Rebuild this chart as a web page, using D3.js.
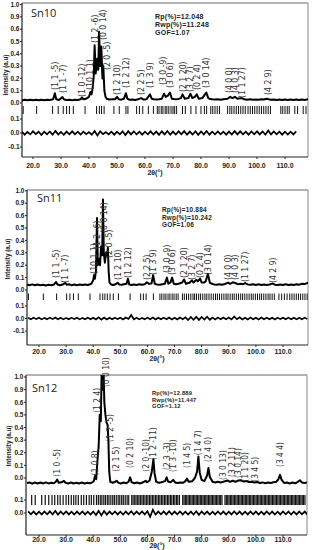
<!DOCTYPE html>
<html><head><meta charset="utf-8">
<script src="https://cdn.jsdelivr.net/npm/d3@7/dist/d3.min.js"></script>
<style>body{margin:0;background:#fff}svg{display:block}</style>
</head><body><svg id="c" width="313" height="550"></svg>
<script>
// ---------- shared axis data ----------
const xTicks=[20,30,40,50,60,70,80,90,100,110];
const xTickLabels=["20.0","30.0","40.0","50.0","60.0","70.0","80.0","90.0","100.0","110.0"];
const yTickValues=[0,0.1,0.2,0.3,0.4,0.5,0.6,0.7,0.8];
const yTickLabels=["0.0","0.1","0.2","0.3","0.4","0.5","0.6","0.9","1.0"];
const diffTickValues=[0.1,0,-0.1];
const diffTickLabels=["0.1","0.0","-0.1"];
const diffStart=16, diffStep=1;
const panelNames=["Sn10","Sn11","Sn12"];
const rpValues=["12.048","10.884","12.889"];
const rwpValues=["11.248","10.242","11.447"];
const gofValues=["1.07","1.06","1.12"];

// ---------- Sn10 ----------
const sn10Obs=[[16,0.02],[17,0.026],[18,0.022],[19,0.027],[20,0.022],[21,0.026],[22,0.023],[23,0.027],[24,0.022],[25,0.026],[26,0.024],[27.2,0.03],[27.8,0.08],[28.3,0.03],[29.3,0.025],[30.5,0.048],[31.1,0.028],[32,0.025],[33,0.027],[34,0.023],[35,0.027],[36,0.024],[37,0.03],[37.5,0.045],[38,0.03],[39,0.035],[40,0.05],[40.5,0.09],[40.9,0.07],[41.3,0.12],[41.7,0.22],[42.0,0.47],[42.4,0.24],[42.9,0.36],[43.3,0.27],[43.6,0.58],[44.0,0.3],[44.4,0.46],[44.8,0.2],[45.1,0.3],[45.5,0.1],[45.9,0.05],[46.3,0.035],[47.2,0.028],[48.2,0.03],[49.3,0.03],[50,0.05],[50.6,0.03],[51.5,0.027],[52.5,0.035],[53.2,0.08],[53.7,0.035],[54.5,0.026],[55.5,0.028],[56.5,0.025],[57.5,0.03],[58.6,0.04],[59.5,0.028],[60.5,0.03],[61.8,0.07],[62.4,0.035],[63.2,0.03],[64,0.028],[65,0.03],[66,0.035],[66.8,0.075],[67.4,0.05],[68.2,0.06],[68.9,0.085],[69.6,0.035],[70.3,0.032],[71,0.03],[72,0.033],[72.8,0.04],[73.4,0.07],[74.2,0.035],[75.5,0.04],[76.2,0.075],[76.9,0.04],[77.8,0.05],[78.5,0.07],[79.2,0.035],[80.5,0.04],[81.4,0.07],[81.9,0.085],[82.6,0.04],[83.3,0.032],[84,0.03],[85,0.028],[86,0.031],[87,0.027],[88,0.03],[89.5,0.035],[90.4,0.05],[91.2,0.04],[92.1,0.05],[93,0.035],[94.5,0.04],[95.5,0.03],[96.5,0.027],[97.5,0.03],[98.5,0.026],[99.5,0.029],[100.5,0.026],[101.5,0.03],[102.5,0.028],[103.5,0.035],[104.2,0.03],[105,0.026],[106,0.029],[107,0.025],[108,0.028],[109,0.025],[110,0.029],[111,0.025],[112,0.028],[113,0.024],[114,0.028],[115,0.025],[116,0.028],[117,0.025],[118.2,0.03]];
const sn10Diff=[0.01,-0.012,0.008,-0.01,0.012,-0.008,0.01,-0.014,0.009,-0.01,
0.011,-0.012,0.015,-0.01,0.008,-0.013,0.01,-0.009,0.012,-0.01,
0.009,-0.011,0.01,-0.008,0.006,-0.012,0.014,-0.018,0.012,-0.008,
0.006,-0.01,0.009,-0.012,0.01,-0.009,0.012,-0.015,0.013,-0.01,
0.011,-0.009,0.01,-0.012,0.009,-0.01,0.012,-0.011,0.01,-0.013,
0.012,-0.01,0.014,-0.012,0.01,-0.011,0.012,-0.009,0.013,-0.012,
0.01,-0.011,0.012,-0.013,0.011,-0.01,0.014,-0.012,0.01,-0.009,
0.011,-0.01,0.009,-0.012,0.01,-0.011,0.013,-0.01,0.012,-0.009,
0.01,-0.012,0.011,-0.009,0.012,-0.01,0.011,-0.012,0.018,-0.01,
0.011,-0.009,0.01,-0.012,0.009,-0.011,0.01,-0.01,0.012];
const sn10Bragg=[16.5,21.3,27.0,29.0,30.8,32.0,33.0,34.4,38.6,42.7,43.7,44.5,45.4,48.9,50.8,53.2,53.9,57.0,58.0,59.2,61.2,63.0,64.4,65.0,65.8,66.4,67.2,67.8,68.5,69.3,70.0,70.6,71.3,73.4,74.4,76.4,78.2,80.0,81.2,82.0,83.5,84.2,85.0,85.8,86.6,89.5,90.3,91.0,91.8,92.6,93.4,94.2,95.0,95.8,96.8,97.6,98.4,99.2,100.0,100.8,101.6,102.4,103.2,104.0,104.8,108.5,109.2,110.0,110.8,111.5,113.5,114.5,116.5,117.5];
const sn10Hkl=[["(1 1 -5)",27.9,0.106],["(1 1 -7)",30.7,0.081],["(1 0 -12)",37.5,0.049],["(10 1 1)",40.4,0.106],["(1 2 -6)",42.1,0.488],["(0 0 14)",45.0,0.512],["(2 0 -5)",46.4,0.268],["(1 2 10)",50.0,0.065],["(1 2 12)",53.2,0.122],["(2 2 5)",58.6,0.065],["(1 3 9)",61.8,0.122],["(3 0 -9)",66.4,0.146],["(3 0 6)",68.9,0.122],["(2 1 20)",73.6,0.089],["(3 2 7)",76.1,0.089],["(0 2 4)",78.6,0.106],["(3 0 14)",81.8,0.122],["(4 0 0)",90.0,0.081],["(4 0 3)",92.1,0.081],["(1 1 27)",94.6,0.041],["(4 2 9)",103.9,0.065]];

// ---------- Sn11 ----------
const sn11Obs=[[15.6,0.045],[16.5,0.038],[17.5,0.045],[18.5,0.038],[19.5,0.044],[20.5,0.038],[21.5,0.043],[22.5,0.037],[23.5,0.043],[24.5,0.039],[25.5,0.044],[26.3,0.065],[26.8,0.045],[27.8,0.039],[28.7,0.044],[29.7,0.058],[30.2,0.042],[31,0.046],[32,0.039],[33,0.044],[34,0.039],[35,0.044],[36,0.04],[37,0.044],[38,0.04],[39.3,0.05],[40,0.08],[40.3,0.12],[40.6,0.09],[41,0.15],[41.4,0.58],[41.7,0.2],[42.1,0.25],[42.5,0.2],[42.9,0.35],[43.3,0.28],[43.6,0.73],[43.9,0.3],[44.3,0.22],[44.7,0.3],[45.1,0.27],[45.4,0.34],[45.7,0.15],[46,0.06],[46.6,0.045],[47.4,0.04],[48.2,0.046],[49,0.058],[49.6,0.045],[50.5,0.042],[51.4,0.046],[52.3,0.05],[52.8,0.09],[53.3,0.045],[54.2,0.04],[55,0.045],[56,0.04],[57,0.046],[58,0.042],[59,0.046],[59.8,0.062],[60.5,0.05],[61.5,0.052],[62.1,0.12],[62.7,0.05],[63.5,0.045],[64.5,0.042],[65.5,0.047],[66.4,0.05],[67.2,0.1],[67.7,0.05],[68.5,0.062],[69.1,0.1],[69.7,0.05],[70.5,0.046],[71.5,0.05],[72.8,0.06],[73.5,0.085],[74.2,0.05],[75.5,0.058],[76.4,0.078],[77,0.06],[78,0.082],[78.6,0.07],[79.4,0.092],[80,0.06],[80.8,0.06],[81.5,0.07],[82.3,0.13],[83,0.06],[83.8,0.05],[84.5,0.045],[85.5,0.042],[86.5,0.046],[87.5,0.042],[88.5,0.048],[89.7,0.06],[90.5,0.05],[91.5,0.062],[92.3,0.056],[93.5,0.046],[94.4,0.05],[95.2,0.046],[96,0.056],[97,0.045],[98,0.042],[99,0.046],[100,0.041],[101,0.046],[102,0.041],[103,0.045],[104,0.041],[105,0.044],[106.3,0.052],[107,0.043],[108,0.04],[109,0.045],[110,0.04],[111,0.046],[112,0.04],[113,0.045],[114,0.041],[115,0.046],[116,0.043],[117,0.05],[118,0.048],[119.2,0.06]];
const sn11Diff=[0.006,-0.006,0.007,-0.005,0.006,-0.007,0.005,-0.006,0.007,-0.005,
0.008,-0.006,0.006,-0.007,0.005,-0.006,0.007,-0.005,0.006,-0.007,
0.005,-0.006,0.007,-0.006,0.006,-0.008,0.01,-0.009,0.008,-0.007,
0.006,-0.006,0.007,-0.005,0.006,-0.007,0.008,-0.004,0.028,-0.006,
0.006,-0.007,0.005,-0.006,0.007,-0.006,0.008,-0.007,0.006,-0.006,
0.007,-0.006,0.008,-0.007,0.006,-0.008,0.007,-0.006,0.009,-0.012,
0.012,-0.01,0.013,-0.011,0.012,-0.008,0.014,-0.01,0.008,-0.007,
0.007,-0.006,0.008,-0.006,0.007,-0.008,0.016,-0.006,0.009,-0.007,
0.006,-0.007,0.007,-0.006,0.006,-0.007,0.008,-0.006,0.007,-0.006,
0.006,-0.007,0.007,-0.005,0.006,-0.006,0.007,-0.006,0.006,-0.007,
0.006,-0.006,0.007,-0.005];
const sn11Bragg=[16.1,21.6,26.5,30.2,31.4,32.7,34.5,38.8,42.5,43.5,44.3,45.2,46.2,47.4,49.3,53.6,57.5,58.5,59.5,62.2,64.6,65.3,66.1,66.8,67.6,68.3,69.1,69.8,70.6,71.3,72.9,73.6,74.4,75.2,76.0,76.8,77.4,78.1,78.9,79.6,80.4,81.2,81.9,82.7,83.5,84.3,85.1,85.8,86.6,87.4,88.2,89.0,89.7,90.5,91.3,92.0,92.8,93.6,94.4,95.1,95.9,96.7,97.5,98.3,99.0,99.8,100.6,101.4,102.1,102.9,103.7,104.5,105.2,106.0,106.8,108.5,109.5,110.5,111.5,112.5,113.3,114.1,114.9,115.7,116.5,117.3,118.1,118.9];
const sn11Hkl=[["(1 1 -5)",26.2,0.097],["(1 1 -7)",29.6,0.056],["(10 1 1)",40.1,0.13],["(1 2 -6)",41.3,0.33],["(0 0 14)",43.9,0.46],["(2 0 -5)",45.8,0.258],["(1 2 10)",49.1,0.08],["(1 2 12)",52.8,0.097],["(2 2 5)",59.8,0.08],["(1 3 9)",62.1,0.121],["(3 0 -9)",67.2,0.137],["(3 0 6)",69.1,0.121],["(2 1 20)",73.5,0.097],["(3 2 7)",76.4,0.08],["(0 2 4)",79.4,0.097],["(3 0 14)",82.3,0.121],["(4 0 0)",89.7,0.08],["(4 0 3)",92.3,0.08],["(1 1 27)",96.0,0.064],["(4 2 9)",106.3,0.056]];

// ---------- Sn12 ----------
const sn12Obs=[[15.6,-0.04],[16.5,-0.035],[17.5,-0.045],[18.5,-0.036],[19.5,-0.044],[20.5,-0.036],[21.5,-0.043],[22.5,-0.035],[23.5,-0.043],[24.5,-0.037],[25.5,-0.042],[26.2,-0.03],[26.7,-0.012],[27.3,-0.038],[28.3,-0.034],[29.2,-0.022],[29.8,-0.038],[30.8,-0.043],[31.8,-0.036],[32.8,-0.044],[33.8,-0.037],[34.8,-0.043],[35.8,-0.036],[36.8,-0.043],[37.8,-0.037],[38.8,-0.042],[39.6,-0.035],[40.2,-0.025],[40.7,0.02],[41.1,-0.01],[41.6,0.15],[42.0,0.25],[42.4,0.5],[42.8,0.45],[43.1,0.84],[43.4,0.7],[43.8,0.86],[44.1,0.6],[44.5,0.5],[44.9,0.44],[45.3,0.42],[45.6,0.3],[45.9,0.05],[46.3,-0.03],[47.2,-0.038],[48,-0.032],[48.6,-0.022],[49.3,-0.038],[50.2,-0.043],[51.2,-0.036],[52.2,-0.042],[53,-0.03],[53.6,0.005],[54.2,-0.035],[55.2,-0.042],[56.2,-0.036],[57.2,-0.043],[58.2,-0.036],[59.3,-0.022],[59.8,-0.034],[60.8,-0.02],[61.6,0.05],[62.2,0.15],[62.6,0.04],[63.2,-0.028],[64.2,-0.038],[65.2,-0.034],[66.5,-0.025],[67.1,0.005],[67.6,-0.028],[68.5,-0.034],[69.5,-0.015],[70.2,-0.035],[71.2,-0.04],[72.2,-0.035],[73.2,-0.038],[74,-0.025],[74.6,-0.005],[75.2,-0.03],[76.5,-0.025],[77.5,0.0],[78.3,0.05],[78.8,0.17],[79.3,0.04],[80,-0.015],[81,-0.025],[82,0.02],[82.5,0.08],[83,0.01],[84,-0.03],[85,-0.036],[86,-0.03],[87,-0.036],[88,-0.03],[89.5,-0.02],[90.5,-0.03],[91.5,-0.022],[92.5,-0.03],[93.5,-0.02],[94.5,-0.018],[95.5,-0.028],[96.5,-0.024],[97.5,-0.032],[98.5,-0.03],[99.5,-0.036],[100.5,-0.032],[101.5,-0.04],[102.5,-0.035],[103.5,-0.042],[104.5,-0.036],[105.5,-0.04],[106.5,-0.034],[107.5,-0.03],[108.3,-0.01],[108.9,0.025],[109.5,-0.015],[110.5,-0.04],[111.5,-0.036],[112.5,-0.043],[113.5,-0.036],[114.5,-0.042],[115.5,-0.03],[116.2,-0.018],[117,-0.036],[118,-0.04],[119.2,-0.035]];
const sn12Diff=[0.012,-0.01,0.011,-0.012,0.01,-0.011,0.012,-0.01,0.013,-0.011,
0.016,-0.012,0.011,-0.01,0.012,-0.011,0.01,-0.012,0.011,-0.01,
0.012,-0.011,0.01,-0.012,0.011,-0.015,0.016,-0.018,0.015,-0.012,
0.011,-0.01,0.012,-0.011,0.01,-0.012,0.011,-0.01,0.013,-0.012,
0.011,-0.01,0.012,-0.011,0.013,-0.03,0.025,-0.012,0.011,-0.01,
0.012,-0.011,0.013,-0.012,0.011,-0.01,0.012,-0.011,0.01,-0.012,
0.011,-0.012,0.013,-0.014,0.012,-0.01,0.011,-0.012,0.01,-0.011,
0.012,-0.01,0.011,-0.012,0.01,-0.011,0.012,-0.01,0.011,-0.012,
0.01,-0.011,0.012,-0.01,0.011,-0.012,0.01,-0.011,0.012,-0.01,
0.011,-0.012,0.01,-0.011,0.012,-0.01,0.011,-0.012,0.01,-0.011,
0.012,-0.01,0.011,-0.012];
const sn12Bragg=[17.3,18.6,21.0,22.3,23.6,24.8,25.8,26.9,27.8,28.9,30.0,30.9,31.9,32.8,33.6,34.5,35.6,36.5,37.5,38.5,39.3,40.2,41.2,41.9,42.6,43.2,43.9,44.5,45.2,45.8,46.5,47.2,47.8,48.5,49.2,49.8,50.5,51.1,51.8,52.5,53.1,
54.2,54.7,55.3,55.8,56.4,56.9,57.5,58.0,58.6,59.1,59.7,60.2,60.8,61.3,61.9,62.4,63.0,63.5,64.1,64.6,65.2,65.7,66.3,66.8,67.4,67.9,68.5,69.0,69.6,70.1,70.7,71.2,71.8,
73.0,73.5,74.0,74.5,75.0,75.5,76.0,76.5,77.0,77.5,78.0,78.5,79.0,79.5,80.0,80.5,81.0,81.5,82.0,82.5,83.0,83.5,84.0,84.5,85.0,85.5,86.0,86.5,87.0,87.5,
88.6,89.1,89.6,90.1,90.6,91.1,91.6,92.1,92.6,93.1,93.6,94.1,94.6,95.1,95.6,96.1,96.6,97.1,97.6,98.1,98.6,99.1,99.6,100.1,100.6,101.1,101.6,102.1,102.6,103.1,103.6,104.1,104.6,105.1,105.6,106.1,106.6,107.1,107.6,108.1,108.6,109.1,109.6,110.1,110.6,111.1,111.6,112.1,112.6,113.1,113.6,114.1,114.6,115.1,115.6,116.1,116.6,117.1,117.6,118.1];
const sn12Hkl=[["(1 0 -5)",26.8,0.01],["(1 0 8)",40.7,0.02],["(1 2 4)",41.4,0.516],["(0 0 10)",44.6,0.72],["(1 2 -5)",46.2,0.286],["(2 1 5)",48.6,0.05],["(0 2 10)",53.6,0.08],["(2 0 -10)",59.5,0.05],["(1 2 -11)",62.2,0.143],["(2 3 -3)",67.1,0.063],["(1 3 -10)",69.5,0.048],["(1 4 5)",74.5,0.08],["(1 4 7)",78.8,0.18],["(2 4 0)",82.5,0.127],["(3 0 13)",88.0,-0.016],["(3 2 11)",91.1,0.008],["(3 0 14)",93.5,0.0],["(1 1 20)",96.0,-0.03],["(3 4 5)",99.7,-0.03],["(3 4 4)",108.9,0.087]];

// ---------- layout (pixel geometry, kept out of data) ----------
const layout=[
 {obs:sn10Obs,diff:sn10Diff,bragg:sn10Bragg,hkl:sn10Hkl,L:22,R:308,T:3,B:157,x0:33,x1:285,y0:103,y8:4.6,bT:106,bB:114,dTop:119,dBot:147,nDiff:3,xlabY:167.5,xtY:174.5,snX:31,snY:17,stX:155,stY:[19,27,35],stFs:7.0,ylX:6,ylY:75,hklFs:8.6,braggW:1},
 {obs:sn11Obs,diff:sn11Diff,bragg:sn11Bragg,hkl:sn11Hkl,L:27,R:308,T:190,B:345,x0:39,x1:283,y0:290,y8:190.8,bT:293.5,bB:300,dTop:306,dBot:331,nDiff:3,xlabY:354,xtY:361,snX:37,snY:202,stX:162,stY:[212.3,219.7,227],stFs:6.4,ylX:8,ylY:259,hklFs:8.6,braggW:1},
 {obs:sn12Obs,diff:sn12Diff,bragg:sn12Bragg,hkl:sn12Hkl,L:26,R:307,T:375,B:535,x0:39,x1:283,y0:478,y8:377,bT:495,bB:505,dTop:500,dBot:526,nDiff:2,xlabY:542,xtY:548,snX:32,snY:392,stX:152,stY:[395,401.7,408.3],stFs:5.7,ylX:9,ylY:446,hklFs:8.4,braggW:1.2}
];

const svg=d3.select("#c");
const boldF="'Liberation Sans',Arial,sans-serif";
const narrowF="'Liberation Sans Narrow','Arial Narrow','DejaVu Sans Condensed',sans-serif";

layout.forEach((p,i)=>{
  const g=svg.append("g");
  const x=d3.scaleLinear().domain([xTicks[0],xTicks[xTicks.length-1]]).range([p.x0,p.x1]);
  const y=d3.scaleLinear().domain([yTickValues[0],yTickValues[yTickValues.length-1]]).range([p.y0,p.y8]);
  const yd=d3.scaleLinear().domain([-0.1,0.1]).range([p.dBot,p.dTop]);
  const cid="clip"+i;
  g.append("clipPath").attr("id",cid).append("rect").attr("x",p.L).attr("y",p.T).attr("width",p.R-p.L).attr("height",p.B-p.T);

  // frame
  g.append("line").attr("x1",p.L).attr("x2",p.R).attr("y1",p.T).attr("y2",p.T).attr("stroke","#666").attr("stroke-width",1);
  g.append("line").attr("x1",p.R).attr("x2",p.R).attr("y1",p.T).attr("y2",p.B).attr("stroke","#888").attr("stroke-width",1);
  g.append("line").attr("x1",p.L).attr("x2",p.R).attr("y1",p.B).attr("y2",p.B).attr("stroke","#222").attr("stroke-width",1.2);
  g.append("line").attr("x1",p.L).attr("x2",p.L).attr("y1",p.T).attr("y2",p.B).attr("stroke","#222").attr("stroke-width",1.2);

  // y ticks main
  yTickValues.forEach((v,k)=>{
    g.append("line").attr("x1",p.L-2).attr("x2",p.L).attr("y1",y(v)).attr("y2",y(v)).attr("stroke","#222");
    g.append("text").attr("x",p.L-2.5).attr("y",y(v)).attr("dy","0.35em").attr("text-anchor","end")
     .attr("font-family",boldF).attr("font-weight","bold").attr("font-size",6.5).attr("fill","#222").text(yTickLabels[k]);
  });
  diffTickValues.slice(0,p.nDiff).forEach((v,k)=>{
    g.append("line").attr("x1",p.L-2).attr("x2",p.L).attr("y1",yd(v)).attr("y2",yd(v)).attr("stroke","#222");
    g.append("text").attr("x",p.L-2.5).attr("y",yd(v)).attr("dy","0.35em").attr("text-anchor","end")
     .attr("font-family",boldF).attr("font-weight","bold").attr("font-size",6.5).attr("fill","#222").text(diffTickLabels[k]);
  });
  // x ticks
  xTicks.forEach((v,k)=>{
    g.append("line").attr("x1",x(v)).attr("x2",x(v)).attr("y1",p.B).attr("y2",p.B+2).attr("stroke","#222");
    g.append("text").attr("x",x(v)).attr("y",p.xlabY).attr("text-anchor","middle")
     .attr("font-family",boldF).attr("font-weight","bold").attr("font-size",7).attr("fill","#222").text(xTickLabels[k]);
  });
  g.append("text").attr("x",(p.x0+p.x1)/2-4).attr("y",p.xtY).attr("text-anchor","middle")
   .attr("font-family",boldF).attr("font-weight","bold").attr("font-size",7).attr("fill","#222").text("2θ(°)");
  g.append("text").attr("transform",`translate(${p.ylX},${p.ylY}) rotate(-90)`).attr("text-anchor","middle").attr("dy","0.35em")
   .attr("font-family",boldF).attr("font-weight","bold").attr("font-size",6.3).attr("fill","#222").text("Intensity (a.u)");

  // observed / calculated pattern
  const line=d3.line().x(d=>x(d[0])).y(d=>y(d[1]));
  g.append("path").attr("d",line(p.obs)).attr("fill","none").attr("stroke","#000").attr("stroke-width",2)
   .attr("stroke-linejoin","round").attr("clip-path",`url(#${cid})`);
  // bragg ticks
  g.selectAll(null).data(p.bragg).enter().append("line")
   .attr("x1",d=>x(d)).attr("x2",d=>x(d)).attr("y1",p.bT).attr("y2",p.bB).attr("stroke","#111").attr("stroke-width",p.braggW)
   .attr("clip-path",`url(#${cid})`);
  // difference
  const dl=d3.line().x(d=>x(d[0])).y(d=>yd(d[1]));
  const dd=p.diff.map((v,k)=>[diffStart+k*diffStep,v]);
  g.append("path").attr("d",dl(dd)).attr("fill","none").attr("stroke","#000").attr("stroke-width",1.7).attr("clip-path",`url(#${cid})`);

  // hkl labels
  p.hkl.forEach(h=>{
    g.append("text").attr("transform",`translate(${x(h[1])},${y(h[2])}) rotate(-90)`).attr("dy","0.35em")
     .attr("font-family",narrowF).attr("font-size",p.hklFs).attr("fill","#333").text(h[0]);
  });

  // panel name & stats
  g.append("text").attr("x",p.snX).attr("y",p.snY).attr("font-family","'Open Sans','Liberation Sans',sans-serif")
   .attr("font-size",11).attr("fill","#222").text(panelNames[i]);
  const st=["Rp(%)="+rpValues[i],"Rwp(%)="+rwpValues[i],"GOF="+gofValues[i]];
  st.forEach((s,k)=>{
    g.append("text").attr("x",p.stX).attr("y",p.stY[k]).attr("font-family",boldF).attr("font-weight","bold")
     .attr("font-size",p.stFs).attr("letter-spacing",0.25).attr("fill","#222").text(s);
  });
});
</script></body></html>
